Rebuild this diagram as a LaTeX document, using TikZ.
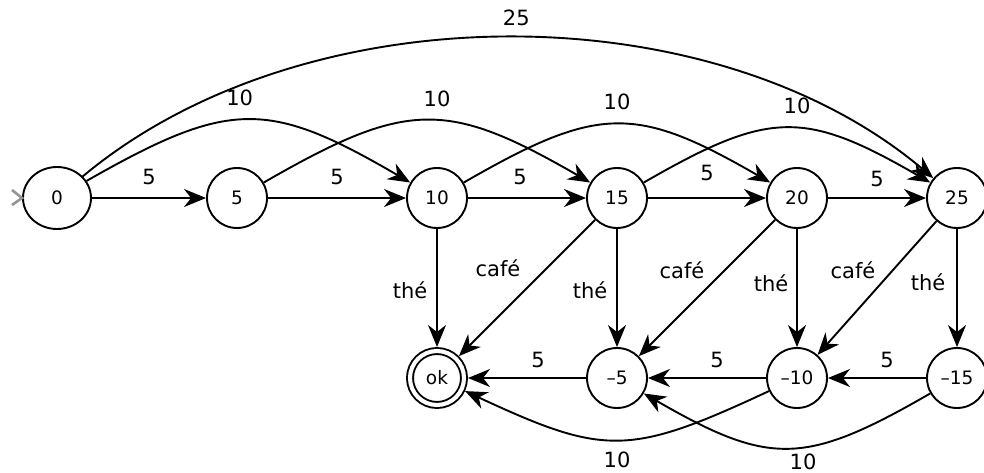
\documentclass[tikz,border=0pt]{standalone}
\usepackage{fontspec}
\setmainfont{DejaVu Sans}
\usetikzlibrary{arrows.meta,shapes.geometric}
\begin{document}
\begin{tikzpicture}[x=1pt,y=-1pt,
  state/.style={circle,draw,line width=1.9pt,minimum size=60pt,inner sep=0pt,
    font=\fontsize{18.5}{21}\selectfont},
  initstate/.style={state,ellipse,minimum width=68pt,minimum height=62pt},
  finalstate/.style={state,double,double distance=4.1pt,minimum size=54pt,outer sep=4pt},
  tr/.style={line width=1.9pt,-{Stealth[length=22pt,width=18pt,inset=7pt]}},
  lbl/.style={font=\fontsize{21}{24}\selectfont,inner sep=0pt},
  startmark/.style={draw=gray!85,line width=2.6pt}
]
\useasboundingbox (0,0) rectangle (984,473);

% states
\node[initstate] (q0)  at (57,198)  {0};
\node[state]     (q5)  at (237,198) {5};
\node[state]     (q10) at (437,198) {10};
\node[state]     (q15) at (617,198) {15};
\node[state]     (q20) at (797,198) {20};
\node[state]     (q25) at (957,198) {25};
\node[finalstate] (ok) at (437,378) {ok};
\node[state]     (m5)  at (617,378) {–5};
\node[state]     (m10) at (797,378) {–10};
\node[state]     (m15) at (957,378) {–15};

% start marker
\coordinate (s1) at (12,190);
\coordinate (s2) at (12,205);
\draw[startmark] (s1) -- (q0.west) -- (s2);

% top straight edges
\draw[tr] (q0) -- node[lbl,yshift=21pt] {5} (q5);
\draw[tr] (q5) -- node[lbl,yshift=21pt] {5} (q10);
\draw[tr] (q10) -- node[lbl,xshift=-7pt,yshift=21pt] {5} (q15);
\draw[tr] (q15) -- node[lbl,yshift=25pt] {5} (q20);
\draw[tr] (q20) -- node[lbl,yshift=19pt] {5} (q25);

% top curves
\draw[tr] (q0) to[bend left=30,looseness=1.3] node[lbl,xshift=-9pt,yshift=22pt] {10} (q10);
\draw[tr] (q5) to[bend left=30,looseness=1.3] node[lbl,xshift=10pt,yshift=22pt] {10} (q15);
\draw[tr] (q10) to[bend left=30,looseness=1.3] node[lbl,yshift=22pt] {10} (q20);
\draw[tr] (q15) to[bend left=30,looseness=1.3] node[lbl,xshift=10pt,yshift=22pt] {10} (q25);
\draw[tr] (q0) to[bend left=40,looseness=0.87] node[lbl,xshift=8pt,yshift=20pt] {25} (q25);

% vertical edges
\draw[tr] (q10) -- node[lbl,xshift=-27pt,yshift=-2pt] {thé} (ok);
\draw[tr] (q15) -- node[lbl,xshift=-27pt,yshift=-2pt] {thé} (m5);
\draw[tr] (q20) -- node[lbl,xshift=-26pt,yshift=5pt] {thé} (m10);
\draw[tr] (q25) -- node[lbl,xshift=-29pt,yshift=6pt] {thé} (m15);

% diagonal edges
\draw[tr] (q15) -- node[lbl,xshift=-29pt,yshift=20pt] {café} (ok);
\draw[tr] (q20) -- node[lbl,xshift=-25pt,yshift=18pt] {café} (m5);
\draw[tr] (q25) -- node[lbl,xshift=-24pt,yshift=18pt] {café} (m10);

% bottom straight edges
\draw[tr] (m5) -- node[lbl,xshift=11pt,yshift=18pt] {5} (ok);
\draw[tr] (m10) -- node[lbl,xshift=10pt,yshift=18pt] {5} (m5);
\draw[tr] (m15) -- node[lbl,xshift=10pt,yshift=18pt] {5} (m10);

% bottom curves
\draw[tr] (m10) to[bend left=25,looseness=1.3] node[lbl,yshift=-20pt] {10} (ok);
\draw[tr] (m15) to[bend left=30,looseness=1.3] node[lbl,xshift=16pt,yshift=-14pt] {10} (m5);
\end{tikzpicture}
\end{document}
